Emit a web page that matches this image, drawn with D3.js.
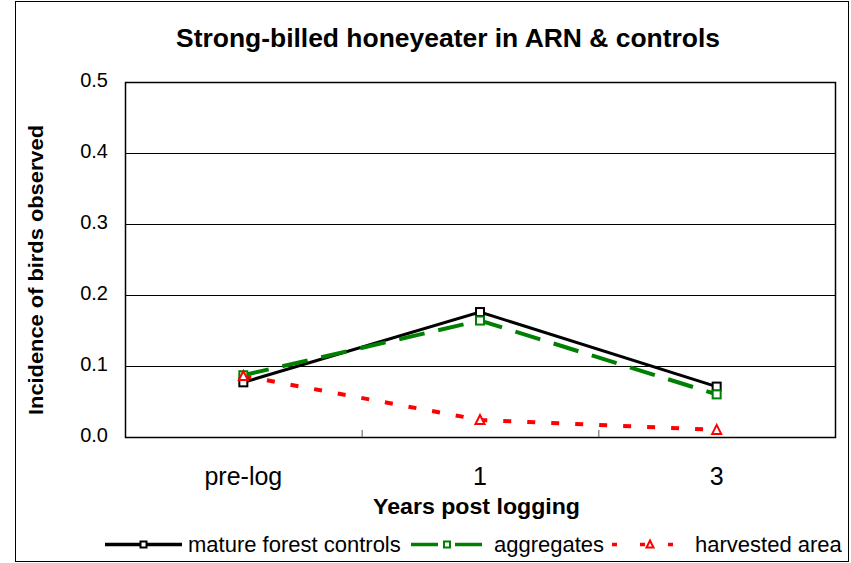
<!DOCTYPE html>
<html><head><meta charset="utf-8">
<script src="https://cdn.jsdelivr.net/npm/d3@7"></script>
<style>body{margin:0;background:#fff;}svg{display:block;font-family:Arial,"Liberation Sans",sans-serif;}</style>
</head><body><svg id="c" width="851" height="563"></svg>
<script>
const categories = ["pre-log", "1", "3"];
const matureValues = [0.077, 0.176, 0.071];
const aggregateValues = [0.087, 0.164, 0.060];
const harvestedValues = [0.086, 0.024, 0.010];
const yTicks = [0, 0.1, 0.2, 0.3, 0.4, 0.5];
const seriesNames = ["mature forest controls", "aggregates", "harvested area"];

const svg = d3.select("#c");
const L = 125, R = 835, T = 82, B = 437;
svg.append("rect").attr("x",15.5).attr("y",1.5).attr("width",833).attr("height",560).attr("fill","#fff").attr("stroke","#000").attr("stroke-width",1);

const x = d3.scaleBand().domain(categories).range([L, R]);
const y = d3.scaleLinear().domain([0, 0.5]).range([B, T]);

// gridlines
svg.append("g").selectAll("line").data(yTicks.slice(1)).join("line")
  .attr("x1",L).attr("x2",R).attr("y1",d=>Math.round(y(d))+0.5).attr("y2",d=>Math.round(y(d))+0.5)
  .attr("stroke","#000").attr("stroke-width",1);
svg.append("rect").attr("x",L+0.5).attr("y",T+0.5).attr("width",R-L).attr("height",B-T).attr("fill","none").attr("stroke","#000").attr("stroke-width",1.5);

// y axis
const ya = svg.append("g").attr("transform",`translate(${L},0)`)
  .call(d3.axisLeft(y).tickValues(yTicks).tickFormat(d3.format(".1f")).tickSize(0).tickPadding(17));
ya.select(".domain").remove();
ya.selectAll("text").attr("font-size",20).attr("dy","0.2em").attr("font-family","Arial,'Liberation Sans',sans-serif").attr("fill","#000");

// x axis
const xa = svg.append("g").attr("transform",`translate(0,${B})`)
  .call(d3.axisBottom(x).tickSize(0).tickPadding(0));
xa.select(".domain").remove();
xa.selectAll("text").attr("font-size",25).attr("dy",null).attr("y",48).attr("font-family","Arial,'Liberation Sans',sans-serif").attr("fill","#000");
svg.append("g").selectAll("line").data(categories.slice(1)).join("line")
  .attr("x1",d=>x(d)+0.5).attr("x2",d=>x(d)+0.5).attr("y1",B).attr("y2",B-7).attr("stroke","#555").attr("stroke-width",1);

svg.append("text").attr("x",176).attr("y",47).attr("font-size",25).attr("font-weight","bold")
  .attr("textLength",544).attr("lengthAdjust","spacingAndGlyphs").text("Strong-billed honeyeater in ARN & controls");
svg.append("text").attr("x",373).attr("y",514).attr("font-size",22).attr("font-weight","bold")
  .attr("textLength",207).attr("lengthAdjust","spacingAndGlyphs").text("Years post logging");
svg.append("text").attr("transform",`translate(43,415) rotate(-90)`).attr("font-size",21).attr("font-weight","bold")
  .attr("textLength",290).attr("lengthAdjust","spacingAndGlyphs").text("Incidence of birds observed");

const cx = d => x(d) + x.bandwidth()/2;
const line = d3.line().x(d=>cx(d.c)).y(d=>y(d.v));
const series = [
  {vals: matureValues, color:"#000", w:3, dash:null, marker:"square", mcolor:"#000"},
  {vals: aggregateValues, color:"#008000", w:4, dash:"26,14", marker:"square", mcolor:"#008000"},
  {vals: harvestedValues, color:"#ff0000", w:4, dash:"8,16", marker:"triangle", mcolor:"#ff0000"}
];
function drawMarker(g, type, color, px, py, s) {
  if (type === "square") {
    g.append("rect").attr("x",px-s/2).attr("y",py-s/2).attr("width",s).attr("height",s)
      .attr("fill","#fff").attr("stroke",color).attr("stroke-width",2);
  } else {
    const h = s;
    g.append("path").attr("d",`M${px},${py-h/2-1}L${px+h/2+0.5},${py+h/2}L${px-h/2-0.5},${py+h/2}Z`)
      .attr("fill","#fff").attr("stroke",color).attr("stroke-width",2);
  }
}
series.forEach(s => {
  const data = categories.map((c,i)=>({c, v:s.vals[i]}));
  svg.append("path").datum(data).attr("d",line).attr("fill","none").attr("stroke",s.color)
    .attr("stroke-width",s.w).attr("stroke-dasharray",s.dash);
});
series.forEach(s => {
  const g = svg.append("g");
  categories.forEach((c,i)=>drawMarker(g, s.marker, s.mcolor, cx(c), y(s.vals[i]), 8));
});

// legend
const leg = [
  {x1:105, x2:182, tx:188},
  {x1:411, x2:483, tx:494},
  {x1:612, x2:688, tx:695}
];
const ly = 544.5;
series.forEach((s,i) => {
  const l = leg[i];
  const g = svg.append("g");
  g.append("line").attr("x1",l.x1).attr("x2",l.x2).attr("y1",ly).attr("y2",ly).attr("stroke",s.color)
    .attr("stroke-width",3.5).attr("stroke-dasharray", i===1 ? "27,17" : (i===2 ? "5,23" : null));
  drawMarker(g, s.marker, s.mcolor, (l.x1+l.x2)/2, ly, 6);
  g.append("text").attr("x",l.tx).attr("y",552).attr("font-size",22).text(seriesNames[i]);
});
</script></body></html>
